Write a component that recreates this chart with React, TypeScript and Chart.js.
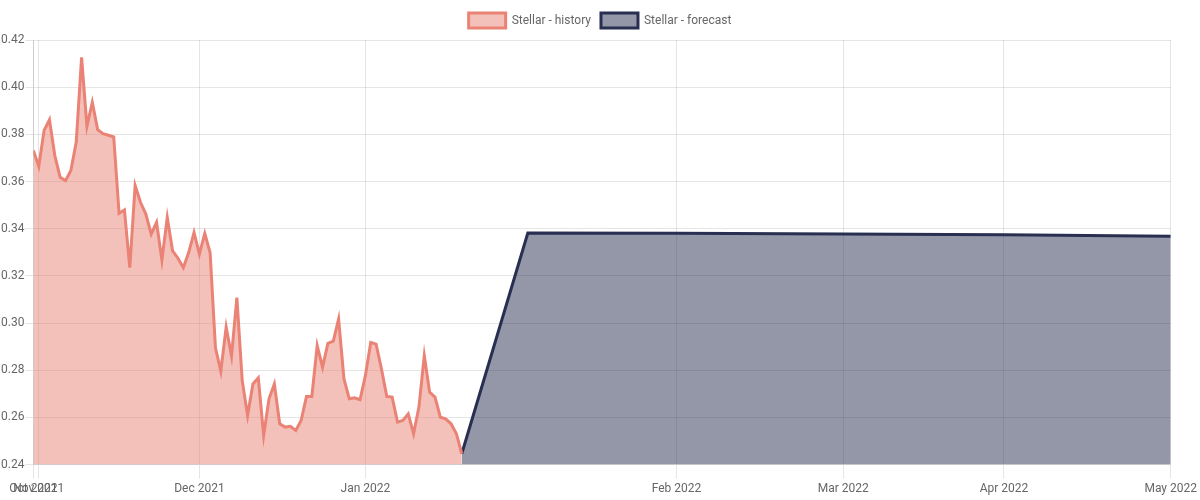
import { useEffect, useRef } from "react"
import { Chart, LinearScale, registerables, type ChartConfiguration } from "chart.js"

// Stellar price, daily history from 31 Oct 2021
const historyStart = "2021-10-31"
const historyValues = [
  0.3732, 0.3664, 0.3817, 0.3862, 0.371, 0.3618, 0.3604, 0.3647, 0.3767, 0.4126,
  0.3834, 0.3936, 0.382, 0.3803, 0.3796, 0.3789, 0.3465, 0.348, 0.3235, 0.3583,
  0.3512, 0.3462, 0.3377, 0.3427, 0.3267, 0.3448, 0.3306, 0.3275, 0.3235, 0.3299,
  0.3384, 0.3292, 0.338, 0.3299, 0.2895, 0.2796, 0.2983, 0.286, 0.3108, 0.2756,
  0.2608, 0.2742, 0.2768, 0.2524, 0.2679, 0.2742, 0.2573, 0.2559, 0.2562, 0.2545,
  0.2587, 0.2689, 0.2689, 0.2904, 0.2813, 0.2914, 0.2923, 0.3017, 0.2763, 0.2679,
  0.2683, 0.2675, 0.2777, 0.2918, 0.2911, 0.2806, 0.2689, 0.2686, 0.258, 0.2587,
  0.2615, 0.2531, 0.2644, 0.2862, 0.2707, 0.2686, 0.2601, 0.2594, 0.2573, 0.2531,
  0.2446,
]

const forecastDates = ["2022-01-19", "2022-01-23", "2022-02-01", "2022-03-01", "2022-04-01", "2022-05-01"]
const forecastValues = [0.2446, 0.3382, 0.3381, 0.3378, 0.3374, 0.3368]

const tickDates = ["2021-10-31", "2021-11-01", "2021-12-01", "2022-01-01", "2022-02-01", "2022-03-01", "2022-04-01", "2022-05-01"]
const tickLabels = ["Oct 2021", "Nov 2021", "Dec 2021", "Jan 2022", "Feb 2022", "Mar 2022", "Apr 2022", "May 2022"]

// the x axis is not linear in time: each stretch between these dates gets its own share of the width
const axisBreaks = ["2021-10-31", "2022-01-19", "2022-02-01", "2022-03-01", "2022-04-01", "2022-05-01"]
const axisStretch = [429, 215, 167, 161, 167]

const DAY = 86400000
const dayOf = (iso: string) =>
  Math.round(Date.UTC(+iso.slice(0, 4), +iso.slice(5, 7) - 1, +iso.slice(8, 10)) / DAY)

const breakDays = axisBreaks.map(dayOf)
const stretchTotal = axisStretch.reduce((a, b) => a + b, 0)
const breakFrac = axisBreaks.map((_, i) => axisStretch.slice(0, i).reduce((a, b) => a + b, 0) / stretchTotal)

function dayToFraction(d: number) {
  const n = breakDays.length
  let i = 0
  while (i < n - 2 && d > breakDays[i + 1]) i++
  const t = (d - breakDays[i]) / (breakDays[i + 1] - breakDays[i])
  return breakFrac[i] + t * (breakFrac[i + 1] - breakFrac[i])
}

function fractionToDay(f: number) {
  const n = breakFrac.length
  let i = 0
  while (i < n - 2 && f > breakFrac[i + 1]) i++
  const t = (f - breakFrac[i]) / (breakFrac[i + 1] - breakFrac[i])
  return breakDays[i] + t * (breakDays[i + 1] - breakDays[i])
}

class StretchedTimeScale extends LinearScale {
  static id = "stretchedTime"
  getPixelForValue(value: number) {
    return this.getPixelForDecimal(dayToFraction(value))
  }
  getValueForPixel(pixel: number) {
    return fractionToDay(this.getDecimalForPixel(pixel))
  }
}

Chart.register(...registerables, StretchedTimeScale)

// a little extra room under the legend
const legendGap = {
  id: "legendGap",
  beforeInit(chart: any) {
    const fit = chart.legend.fit
    chart.legend.fit = function () {
      fit.call(this)
      this.height += 2
    }
  },
}

export default function App() {
  const chartRef = useRef<HTMLCanvasElement>(null)
  const chartInstanceRef = useRef<Chart | null>(null)

  useEffect(() => {
    if (!chartRef.current) return
    const ctx = chartRef.current.getContext("2d")
    if (!ctx) return

    if (chartInstanceRef.current) {
      chartInstanceRef.current.destroy()
    }

    Chart.defaults.font.family = "Roboto, sans-serif"
    Chart.defaults.font.size = 12
    Chart.defaults.color = "#666"

    const startDay = dayOf(historyStart)
    const history = historyValues.map((y, i) => ({ x: startDay + i, y }))
    const forecast = forecastDates.map((d, i) => ({ x: dayOf(d), y: forecastValues[i] }))

    const config: ChartConfiguration = {
      type: "line",
      data: {
        datasets: [
          {
            label: "Stellar - history",
            data: history,
            borderColor: "rgb(234, 131, 117)",
            backgroundColor: "rgba(234, 131, 117, 0.5)",
            borderWidth: 3,
            fill: true,
            tension: 0,
            pointRadius: 0,
          },
          {
            label: "Stellar - forecast",
            data: forecast,
            borderColor: "rgb(41, 47, 81)",
            backgroundColor: "rgba(41, 47, 81, 0.5)",
            borderWidth: 3,
            fill: true,
            tension: 0,
            pointRadius: 0,
          },
        ],
      },
      plugins: [legendGap],
      options: {
        responsive: true,
        maintainAspectRatio: false,
        animation: false,
        layout: { padding: { top: 3, bottom: 1 } },
        plugins: {
          legend: {
            position: "top",
            labels: {
              boxWidth: 37,
              boxHeight: 15,
              color: "#666",
            },
          },
          tooltip: { enabled: false },
        },
        scales: {
          x: {
            type: "stretchedTime" as any,
            min: breakDays[0],
            max: breakDays[breakDays.length - 1],
            afterBuildTicks: (axis: any) => {
              axis.ticks = tickDates.map((d) => ({ value: dayOf(d) }))
            },
            ticks: {
              autoSkip: false,
              maxRotation: 0,
              padding: 3,
              callback: (_value: any, index: number) => tickLabels[index],
            },
            grid: { color: "rgba(0, 0, 0, 0.1)", tickLength: 14 },
          },
          y: {
            min: 0.24,
            max: 0.42,
            ticks: {
              stepSize: 0.02,
              padding: 1,
              callback: (value) => Number(value).toFixed(2),
            },
            grid: { color: "rgba(0, 0, 0, 0.1)" },
          },
        },
      },
    }

    chartInstanceRef.current = new Chart(ctx, config)

    return () => {
      if (chartInstanceRef.current) {
        chartInstanceRef.current.destroy()
        chartInstanceRef.current = null
      }
    }
  }, [])

  return (
    <div style={{ position: "fixed", left: 0, top: 0, width: 1200, height: 500, background: "#fff" }}>
      <canvas ref={chartRef} />
    </div>
  )
}
